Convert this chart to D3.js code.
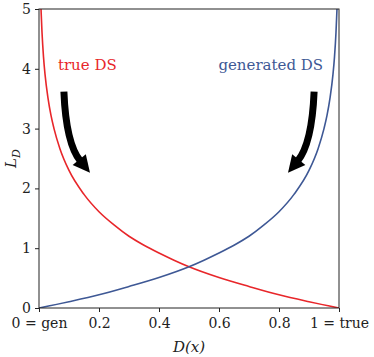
<!DOCTYPE html>
<html>
<head>
<meta charset="utf-8">
<script src="https://cdn.jsdelivr.net/npm/d3@7"></script>
<style>
  body { margin: 0; background: #fff; }
  svg text { font-family: "DejaVu Serif", "Liberation Serif", serif; }
</style>
</head>
<body>
<div id="chart"></div>
<script>
// values
var xTrue = [0.0067, 0.01, 0.015, 0.02, 0.03, 0.04, 0.05, 0.07, 0.1, 0.15, 0.2, 0.25, 0.3, 0.35, 0.4, 0.45, 0.5, 0.6, 0.7, 0.8, 0.9, 1.0];
var yTrue = [5.0, 4.61, 4.2, 3.91, 3.51, 3.22, 3.0, 2.66, 2.30, 1.90, 1.61, 1.39, 1.20, 1.05, 0.92, 0.80, 0.69, 0.51, 0.36, 0.22, 0.105, 0.0];
var xGen = [0.0, 0.1, 0.2, 0.3, 0.4, 0.5, 0.55, 0.6, 0.65, 0.7, 0.75, 0.8, 0.85, 0.9, 0.93, 0.95, 0.96, 0.97, 0.98, 0.985, 0.99, 0.9933];
var yGen = [0.0, 0.105, 0.22, 0.36, 0.51, 0.69, 0.80, 0.92, 1.05, 1.20, 1.39, 1.61, 1.90, 2.30, 2.66, 3.0, 3.22, 3.51, 3.91, 4.2, 4.61, 5.0];
var xTicks = [0, 0.2, 0.4, 0.6, 0.8, 1];
var xTickLabels = ["0 = gen", "0.2", "0.4", "0.6", "0.8", "1 = true"];
var yTicks = [0, 1, 2, 3, 4, 5];

var red = "#e8262a", blue = "#3e5895";

var width = 374, height = 357;
var margin = {top: 9, right: 35, bottom: 49, left: 39};

var svg = d3.select("#chart").append("svg")
    .attr("width", width)
    .attr("height", height);

var x = d3.scaleLinear().domain([0, 1]).range([margin.left, width - margin.right]);
var y = d3.scaleLinear().domain([0, 5]).range([height - margin.bottom, margin.top]);

svg.append("clipPath").attr("id", "clip")
  .append("rect")
    .attr("x", x(0)).attr("y", y(5))
    .attr("width", x(1) - x(0)).attr("height", y(0) - y(5));

var line = d3.line()
    .x(function(d) { return x(d[0]); })
    .y(function(d) { return y(d[1]); })
    .curve(d3.curveMonotoneX);

var plot = svg.append("g").attr("clip-path", "url(#clip)");

plot.append("path")
    .datum(d3.zip(xTrue, yTrue))
    .attr("d", line)
    .attr("fill", "none")
    .attr("stroke", red)
    .attr("stroke-width", 1.6);

plot.append("path")
    .datum(d3.zip(xGen, yGen))
    .attr("d", line)
    .attr("fill", "none")
    .attr("stroke", blue)
    .attr("stroke-width", 1.6);

// frame
svg.append("rect")
    .attr("x", x(0)).attr("y", y(5))
    .attr("width", x(1) - x(0)).attr("height", y(0) - y(5))
    .attr("fill", "none")
    .attr("stroke", "#222")
    .attr("stroke-width", 1);

// axes
var xAxis = svg.append("g")
    .attr("transform", "translate(0," + y(0) + ")")
    .call(d3.axisBottom(x).tickValues(xTicks)
        .tickFormat(function(d, i) { return xTickLabels[i]; })
        .tickSize(4).tickPadding(6));
var yAxis = svg.append("g")
    .attr("transform", "translate(" + x(0) + ",0)")
    .call(d3.axisLeft(y).tickValues(yTicks).tickFormat(d3.format("d"))
        .tickSize(4).tickPadding(4));

[xAxis, yAxis].forEach(function(a) {
    a.select(".domain").remove();
    a.selectAll("line").attr("stroke", "#222");
    a.selectAll("text")
        .attr("fill", "#222")
        .style("font-family", "'DejaVu Serif', serif")
        .style("font-size", "14px");
});

// axis labels
svg.append("text")
    .attr("x", (x(0) + x(1)) / 2)
    .attr("y", 352)
    .attr("text-anchor", "middle")
    .attr("font-size", 15)
    .attr("font-style", "italic")
    .attr("fill", "#222")
    .html("D(<tspan>x</tspan>)");

svg.append("text")
    .attr("transform", "translate(16," + y(2.5) + ") rotate(-90)")
    .attr("text-anchor", "middle")
    .attr("font-size", 15)
    .attr("font-style", "italic")
    .attr("fill", "#222")
    .html("L<tspan font-size='11' dy='4'>D</tspan>");

// curve labels
svg.append("text")
    .attr("x", x(0.063)).attr("y", y(3.98))
    .attr("font-size", 15).attr("fill", red)
    .text("true DS");
svg.append("text")
    .attr("x", x(0.947)).attr("y", y(3.98))
    .attr("text-anchor", "end")
    .attr("font-size", 15).attr("fill", blue)
    .text("generated DS");

// thick curved arrows
var arrows = [
    {from: [0.083, 3.62], ctrl: [0.09, 2.75], to: [0.17, 2.26]},
    {from: [0.917, 3.62], ctrl: [0.91, 2.75], to: [0.83, 2.26]}
];

arrows.forEach(function(a) {
    var p0 = [x(a.from[0]), y(a.from[1])],
        p1 = [x(a.ctrl[0]), y(a.ctrl[1])],
        p2 = [x(a.to[0]), y(a.to[1])];
    var dx = p2[0] - p1[0], dy = p2[1] - p1[1],
        len = Math.sqrt(dx * dx + dy * dy),
        ux = dx / len, uy = dy / len,
        headLen = 17, headW = 8.5;
    // shaft ends where the head begins
    var b = [p2[0] - ux * headLen, p2[1] - uy * headLen];
    var path = d3.path();
    path.moveTo(p0[0], p0[1]);
    path.quadraticCurveTo(p1[0], p1[1], b[0] + ux * 2, b[1] + uy * 2);
    svg.append("path")
        .attr("d", path.toString())
        .attr("fill", "none")
        .attr("stroke", "#000")
        .attr("stroke-width", 7);
    svg.append("polygon")
        .attr("points", [
            [p2[0], p2[1]],
            [b[0] - uy * headW, b[1] + ux * headW],
            [b[0] + uy * headW, b[1] - ux * headW]
        ].map(function(p) { return p.join(","); }).join(" "))
        .attr("fill", "#000");
});
</script>
</body>
</html>
